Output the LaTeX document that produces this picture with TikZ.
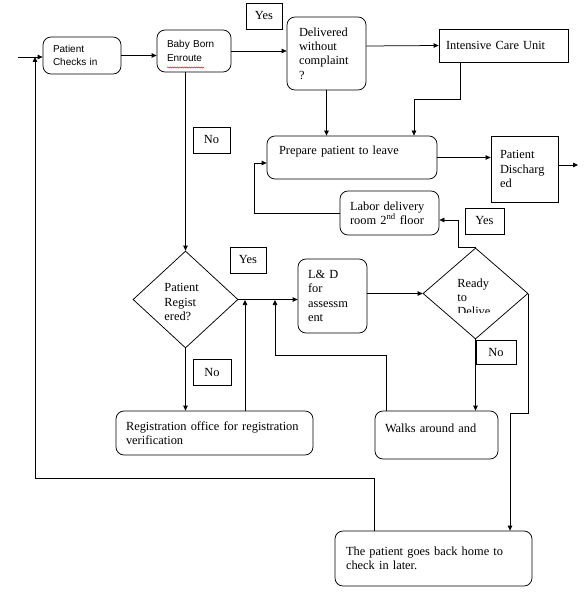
\documentclass[tikz,border=0pt]{standalone}
\usepackage{fontspec}
\setmainfont{Liberation Serif}
\newfontfamily\arialfont{Liberation Sans}
\usetikzlibrary{arrows.meta,shapes.geometric,decorations.pathmorphing}
\newcommand{\boxfont}{\fontsize{12.4}{14.2}\selectfont}
\newcommand{\arialbox}{\arialfont\fontsize{10}{13.5}\selectfont}
\tikzset{
  fbox/.style  ={draw, rounded corners=8pt, align=left, inner xsep=10pt,
                 inner ysep=0pt, font=\boxfont},
  fsans/.style ={fbox, font=\arialbox},
  fsq/.style   ={fbox, sharp corners},
  fans/.style  ={draw, inner sep=0pt, font=\boxfont},
  fdec/.style  ={draw, diamond, inner sep=0pt},
  ftxt/.style  ={align=left, inner sep=0pt, font=\boxfont},
  far/.style   ={-{Triangle[length=5pt, width=4.5pt]}, line width=0.75pt},
}
\begin{document}
\begin{tikzpicture}[x=1pt, y=-1pt, line width=0.75pt]
\useasboundingbox (0,0) rectangle (585,593);

% top row
\node[fsans, text width=58pt, minimum height=37pt] (checkin) at (82,55.5) {Patient\\Checks in};
\node[fsans, text width=54pt, minimum height=42pt] (baby) at (194,51) {Baby Born\\Enroute};
\node[fans, minimum width=36pt, minimum height=26pt] (yes1) at (264,16) {Yes};
\node[fbox, text width=55pt, inner xsep=12pt, minimum height=73pt] (delivered) at (326.5,53.5)
  {Delivered\\without\\complaint\\?};
\node[fsq, text width=115pt, inner xsep=7pt, minimum height=33pt] (icu) at (503.5,45.5)
  {Intensive Care Unit};

% leaving
\node[fbox, text width=146pt, inner xsep=12pt, minimum height=43pt] (prepare) at (352,157.5)
  {Prepare patient to leave\\\mbox{}};
\node[fsq, text width=49pt, inner xsep=9pt, minimum height=66pt] (discharged) at (524.5,169)
  {Patient\\Discharg\\ed};
\node[fans, minimum width=37pt, minimum height=26pt] (no1) at (211.5,140) {No};
\node[fbox, text width=79pt, minimum height=44pt] (labor) at (389.5,213)
  {Labor delivery\\room 2\textsuperscript{nd} floor};
\node[fans, minimum width=39pt, minimum height=26pt] (yes2) at (484.5,221) {Yes};

% decisions
\node[fans, minimum width=36pt, minimum height=26pt] (yes3) at (248,260) {Yes};
\node[fdec, minimum width=105pt, minimum height=97pt] (registered) at (185.5,299.5) {};
\node[ftxt, anchor=west] (registered-t) at (164,302) {Patient\\Regist\\ered?};
\node[fbox, text width=49pt, minimum height=74pt] (ld) at (332.5,296)
  {L\& D\\for\\assessm\\ent};
\node[fdec, minimum width=105pt, minimum height=91pt] (ready) at (475.5,293.5) {};
\begin{scope}
  \clip (440,260) rectangle (500,312);
  \node[ftxt, anchor=west] (ready-t) at (457,297) {Ready\\to\\Delive};
\end{scope}
\node[fans, minimum width=40pt, minimum height=24pt] (no2) at (496,352) {No};
\node[fans, minimum width=38pt, minimum height=26pt] (no3) at (212,372) {No};

% bottom
\node[fbox, text width=177pt, minimum height=44pt] (regoffice) at (214.5,433)
  {Registration office for registration\\verification};
\node[fbox, text width=103pt, minimum height=48pt] (walks) at (436.5,435)
  {Walks around and\\\mbox{}};
\node[fbox, text width=175pt, inner xsep=11pt, minimum height=55pt] (home) at (433.5,558.5)
  {The patient goes back home to\\check in later.};

% spelling mark
\draw[red, line width=0.5pt, decorate, decoration={snake, amplitude=0.6pt, segment length=2.4pt}]
  (167,67.5) -- (204,67.5);

\coordinate (entry) at (18,57);
\coordinate (back) at (35,478);
\coordinate (icuknee) at (414,99);
\coordinate (lbknee) at (254,163);
\coordinate (rdknee) at (458,220);
\coordinate (regup) at (245,300);
\coordinate (wkup) at (386,355);
\coordinate (wkknee) at (275,355);
\coordinate (rdside) at (510,413);
\coordinate (exit) at (578,165);

\draw[far] (entry) -- (entry -| checkin.west);
\draw[far] ([xshift=40pt]home.north west) |- (back) -- (back |- entry);
\draw[far] (checkin) -- (checkin -| baby.west);
\draw[far] (baby) -- (baby -| delivered.west);
\draw[far] ([yshift=7.5pt]delivered.east) -- (icu.west);
\draw[far] (delivered) -- (delivered |- prepare.north);
\draw[far] ([xshift=-43.5pt]icu.south) |- (icuknee) -- (icuknee |- prepare.north);
\draw[far] (prepare) -- (prepare -| discharged.west);
\draw[far] ([yshift=4pt]discharged.east) -- (exit);
\draw[far] (baby.south -| registered.north) -- (registered.north);
\draw[far] (labor.west) -| (lbknee) -- (lbknee -| prepare.west);
\draw[far] (ready.north) -| (rdknee) -- (rdknee -| labor.east);
\draw[far] (registered.east) -- (registered.east -| ld.west);
\draw[far] (regup |- regoffice.north) -- (regup);
\draw[far] (registered.south) -- (registered.south |- regoffice.north);
\draw[far] (wkup |- walks.north) -- (wkup) -- (wkknee) -- (wkknee |- regup);
\draw[far] (ld.east |- ready.west) -- (ready.west);
\draw[far] (ready.south) -- (ready.south |- walks.north);
\draw[far] (ready.east) |- (rdside) -- (rdside |- home.north);

\end{tikzpicture}
\end{document}
